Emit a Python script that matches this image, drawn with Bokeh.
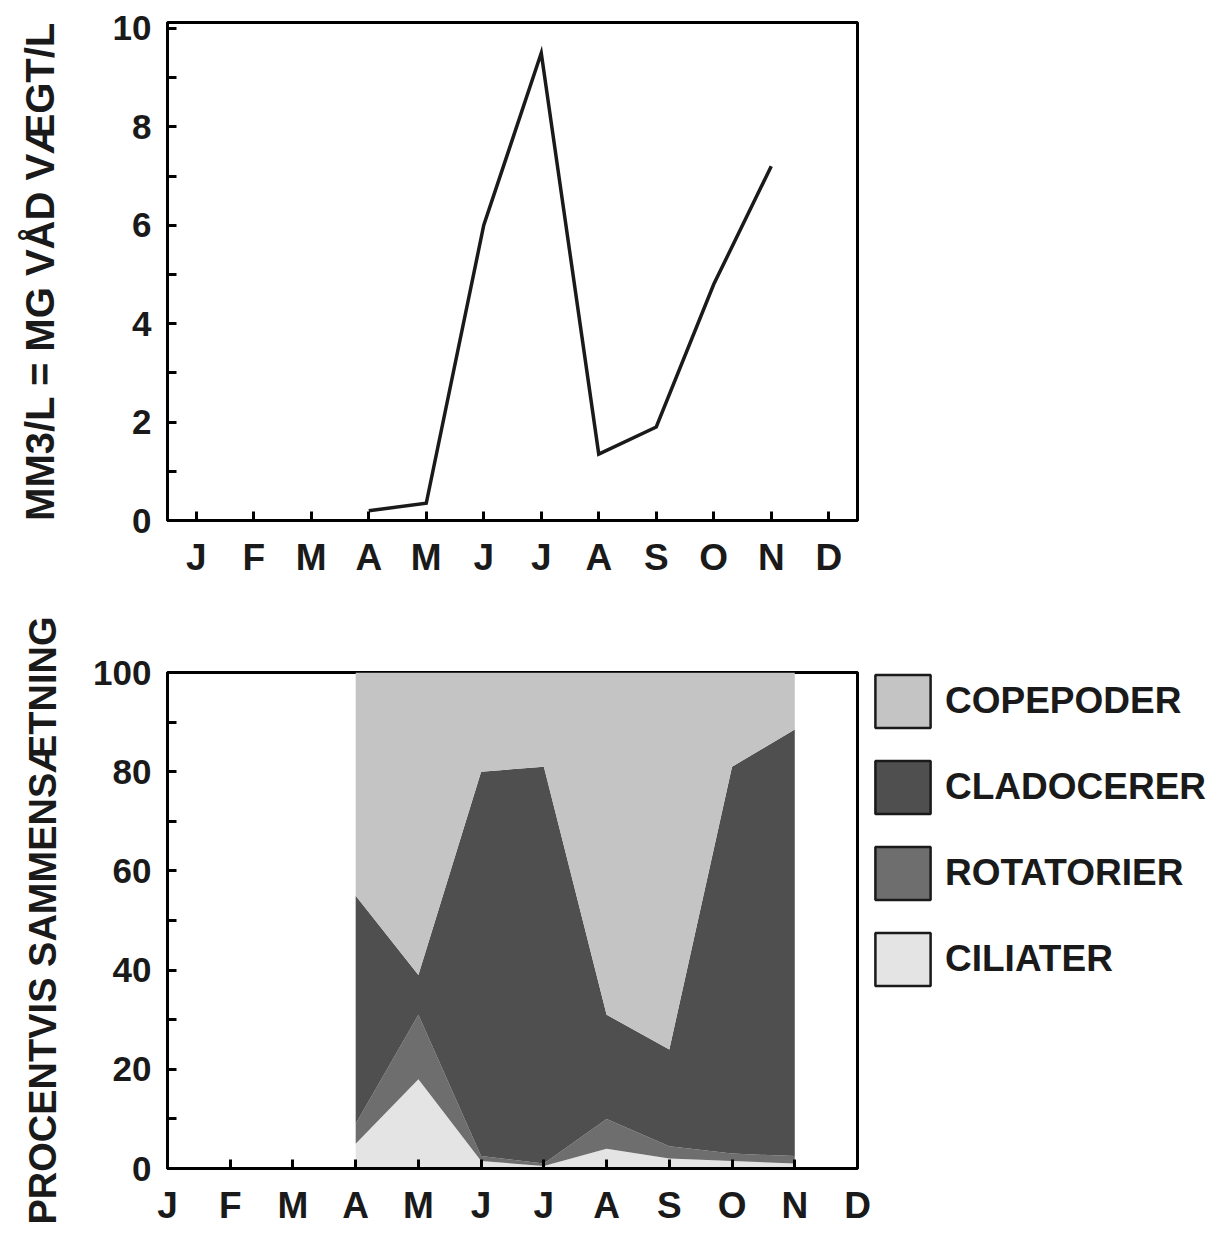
from bokeh.plotting import figure
from bokeh.layouts import column
from bokeh.models import FixedTicker, ColumnDataSource, Legend, LegendItem, Range1d
from bokeh.embed import file_html
from bokeh.resources import INLINE

# ---------------- data ----------------
month_labels = ["J", "F", "M", "A", "M", "J", "J", "A", "S", "O", "N", "D"]

# top chart: biomass (mm3/L)
biomass_months = [4, 5, 6, 7, 8, 9, 10, 11]
biomass = [0.2, 0.35, 6.0, 9.5, 1.35, 1.9, 4.8, 7.2]

# bottom chart: percent composition
comp_months = [4, 5, 6, 7, 8, 9, 10, 11]
ciliater = [5, 18, 1.5, 0.5, 4, 2, 1.5, 1]
rotatorier = [4, 13, 1, 0.5, 6, 2.5, 1.5, 1.5]
cladocerer = [46, 8, 77.5, 80, 21, 19.5, 78, 86]
copepoder = [45, 61, 20, 19, 69, 76, 19, 11.5]

series_names = ["CILIATER", "ROTATORIER", "CLADOCERER", "COPEPODER"]
series_colors = ["#e4e4e4", "#6e6e6e", "#4f4f4f", "#c4c4c4"]

FONT = "Liberation Sans"


def style_axes(p, ytitle, title_size, title_standoff):
    p.outline_line_color = "black"
    p.outline_line_width = 3
    p.xgrid.visible = False
    p.ygrid.visible = False
    for ax in (p.xaxis[0], p.yaxis[0]):
        ax.axis_line_width = 3
        ax.axis_line_color = "black"
        ax.major_tick_in = 9
        ax.major_tick_out = 0
        ax.minor_tick_in = 9
        ax.minor_tick_out = 0
        ax.major_tick_line_width = 3
        ax.minor_tick_line_width = 3
        ax.major_label_text_font = FONT
        ax.major_label_text_font_style = "bold"
        ax.major_label_text_color = "#1a1a1a"
    p.xaxis[0].major_label_text_font_size = "37px"
    p.yaxis[0].major_label_text_font_size = "35px"
    p.xaxis[0].major_label_standoff = 16
    p.yaxis[0].major_label_standoff = 16
    p.xaxis[0].major_label_overrides = {i + 1: m for i, m in enumerate(month_labels)}
    p.yaxis[0].axis_label = ytitle
    p.yaxis[0].axis_label_text_font = FONT
    p.yaxis[0].axis_label_text_font_style = "bold"
    p.yaxis[0].axis_label_text_font_size = title_size
    p.yaxis[0].axis_label_text_color = "#1a1a1a"
    p.yaxis[0].axis_label_standoff = title_standoff


# ---------------- top chart ----------------
p1 = figure(frame_width=690, frame_height=498, output_backend="svg", toolbar_location=None,
            x_range=Range1d(0.5, 12.5), y_range=Range1d(0, 10.12),
            min_border_left=167, min_border_right=367, min_border_top=22, min_border_bottom=80)
p1.xaxis.ticker = FixedTicker(ticks=list(range(1, 13)))
p1.yaxis.ticker = FixedTicker(ticks=[0, 2, 4, 6, 8, 10], minor_ticks=[1, 3, 5, 7, 9])
style_axes(p1, "MM3/L = MG VÅD VÆGT/L", "40px", 48)
p1.line(biomass_months, biomass, line_color="#1a1a1a", line_width=3.5, line_join="miter")

# ---------------- bottom chart ----------------
p2 = figure(frame_width=690, frame_height=496, output_backend="svg", toolbar_location=None,
            x_range=Range1d(1, 12), y_range=Range1d(0, 100),
            min_border_left=167, min_border_right=18, min_border_top=72, min_border_bottom=81)
p2.xaxis.ticker = FixedTicker(ticks=list(range(1, 13)))
p2.yaxis.ticker = FixedTicker(ticks=[0, 20, 40, 60, 80, 100], minor_ticks=[10, 30, 50, 70, 90])
style_axes(p2, "PROCENTVIS SAMMENSÆTNING", "38px", 26)

src = ColumnDataSource(dict(x=comp_months, CILIATER=ciliater, ROTATORIER=rotatorier,
                            CLADOCERER=cladocerer, COPEPODER=copepoder))
p2.varea_stack(stackers=series_names, x="x", source=src, color=series_colors)

nan = float("nan")
items = []
for name, col in reversed(list(zip(series_names, series_colors))):
    proxy = p2.quad(left=[nan], right=[nan], top=[nan], bottom=[nan], fill_color=col,
                    line_color="#1a1a1a", line_width=2.5)
    items.append(LegendItem(label=name, renderers=[proxy]))

legend = Legend(items=items, location=(11, 176), orientation="vertical",
                glyph_width=69, glyph_height=66, spacing=20, label_standoff=8,
                padding=0, margin=0, border_line_color=None, background_fill_alpha=0,
                label_text_font=FONT, label_text_font_style="bold",
                label_text_font_size="37px", label_text_color="#1a1a1a",
                label_text_baseline="middle")
p2.add_layout(legend, "right")

layout = column(p1, p2, spacing=0)
open("out.html", "w").write(file_html(layout, INLINE))
